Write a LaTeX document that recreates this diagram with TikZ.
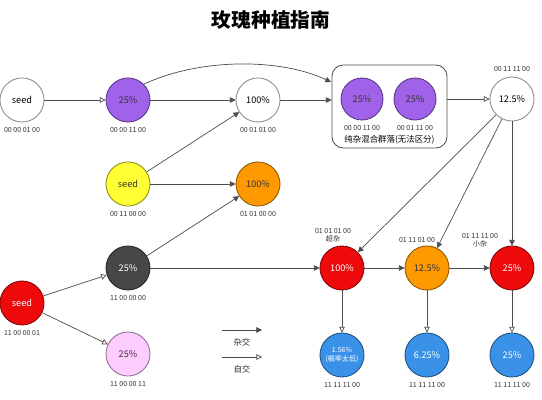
\documentclass[tikz,border=0pt]{standalone}
\usepackage{fontspec}
\setmainfont{Noto Sans CJK SC}
\usetikzlibrary{arrows.meta}
\definecolor{rosepurple}{HTML}{9F62E8}
\definecolor{roseyellow}{HTML}{FFFF33}
\definecolor{roseorange}{HTML}{FF9900}
\definecolor{rosegrey}{HTML}{474747}
\definecolor{rosered}{HTML}{EE0A0A}
\definecolor{rosepink}{HTML}{FFCCFF}
\definecolor{roseblue}{HTML}{3A92E8}
\begin{document}
\begin{tikzpicture}[x=0.025cm,y=-0.025cm,line join=round,
	every node/.style={font=\fontsize{6.5}{8}\selectfont},
	ball/.style={circle,draw=#1!55!black,fill=#1,line width=0.6pt,minimum size=1.1cm,inner sep=0pt},
	lbl/.style={font=\fontsize{5}{6}\selectfont,text=black!80},
	cross/.style={-{Triangle[length=4pt,width=4pt]},draw=black!70,line width=0.5pt},
	self/.style={-{Triangle[open,length=4pt,width=4pt]},draw=black!70,line width=0.5pt}]
	\useasboundingbox (0,0) rectangle (542,400);
	\node (title) at (271,20) {\fontsize{14}{16}\selectfont\bfseries 玫瑰种植指南};
	% first row
	\node[ball=white,label={[lbl]below:00 00 01 00}] (wseed) at (22,100) {seed};
	\node[ball=rosepurple,text=black!80,label={[lbl]below:00 00 11 00}] (p25) at (128,100) {25\%};
	\node[ball=white,label={[lbl]below:00 01 01 00}] (w100) at (258,100) {100\%};
	\node[draw=black!70,line width=0.6pt,rounded corners=8pt,minimum width=2.875cm,minimum height=2.075cm] (box) at (389.5,106.5) {};
	\node[ball=rosepurple,text=black!80,minimum size=1.05cm,label={[lbl]below:00 00 11 00}] (bp1) at (362,99) {25\%};
	\node[ball=rosepurple,text=black!80,minimum size=1.05cm,label={[lbl]below:00 01 11 00}] (bp2) at (415,99) {25\%};
	\node[font=\fontsize{6}{7}\selectfont] (boxtxt) at (389.5,140) {纯杂混合群落(无法区分)};
	\node[ball=white,label={[lbl]above:00 11 11 00}] (w125) at (512,99) {12.5\%};
	% second row
	\node[ball=roseyellow,text=black!80,label={[lbl]below:00 11 00 00}] (yseed) at (128,184) {seed};
	\node[ball=roseorange,text=black!80,label={[lbl]below:01 01 00 00}] (o100) at (258,184) {100\%};
	% third row
	\node[ball=rosegrey,text=white,label={[lbl]below:11 00 00 00}] (g25) at (128,268) {25\%};
	\node[ball=rosered,text=white,label={[lbl]below:11 00 00 01}] (rseed) at (22,303) {seed};
	\node[ball=rosepink,text=black!80,label={[lbl]below:11 00 00 11}] (k25) at (128,354) {25\%};
	\node[ball=rosered,text=white] (r100) at (342,268) {100\%};
	\node[lbl,align=center] (r100lbl) at (333,235) {01 01 01 00\\超杂};
	\node[ball=roseorange,text=black!80] (o125) at (427,268) {12.5\%};
	\node[lbl] (o125lbl) at (417,240) {01 11 01 00};
	\node[ball=rosered,text=white] (r25) at (512,268) {25\%};
	\node[lbl,align=center] (r25lbl) at (480,240) {01 11 11 00\\小杂};
	% bottom row
	\node[ball=roseblue,text=white,label={[lbl]below:11 11 11 00}] (b156) at (342,355) {\fontsize{5}{6.5}\selectfont\begin{tabular}{@{}c@{}}1.56\%\\(概率太低)\end{tabular}};
	\node[ball=roseblue,text=white,label={[lbl]below:11 11 11 00}] (b625) at (427,355) {6.25\%};
	\node[ball=roseblue,text=white,label={[lbl]below:11 11 11 00}] (b25) at (512,355) {25\%};
	% connectors
	\coordinate (boxin) at (331,82);
	\draw[self] (wseed) -- (p25);
	\draw[cross] (p25) -- (w100);
	\draw[cross] (p25.north east) .. controls (200,58) and (280,58) .. (boxin);
	\draw[cross] (w100) -- (w100 -| box.west);
	\draw[self] (box.east |- w125) -- (w125);
	\draw[cross] (yseed) -- (w100);
	\draw[cross] (yseed) -- (o100);
	\draw[cross] (g25) -- (o100);
	\draw[cross] (g25) -- (r100);
	\draw[self] (rseed) -- (g25);
	\draw[self] (rseed) -- (k25);
	\draw[cross] (w125) -- (r100);
	\draw[cross] (w125) -- (o125);
	\draw[cross] (w125) -- (r25);
	\draw[cross] (r100) -- (o125);
	\draw[cross] (o125) -- (r25);
	\draw[self] (r100) -- (b156);
	\draw[self] (o125) -- (b625);
	\draw[self] (r25) -- (b25);
	% legend
	\coordinate (lgca) at (222,330);
	\coordinate (lgcb) at (262,330);
	\coordinate (lgsa) at (222,357);
	\coordinate (lgsb) at (262,357);
	\draw[cross] (lgca) -- (lgcb);
	\node[lbl,font=\fontsize{6}{7}\selectfont] (lgct) at (242,342) {杂交};
	\draw[self] (lgsa) -- (lgsb);
	\node[lbl,font=\fontsize{6}{7}\selectfont] (lgst) at (242,369) {自交};
\end{tikzpicture}
\end{document}
